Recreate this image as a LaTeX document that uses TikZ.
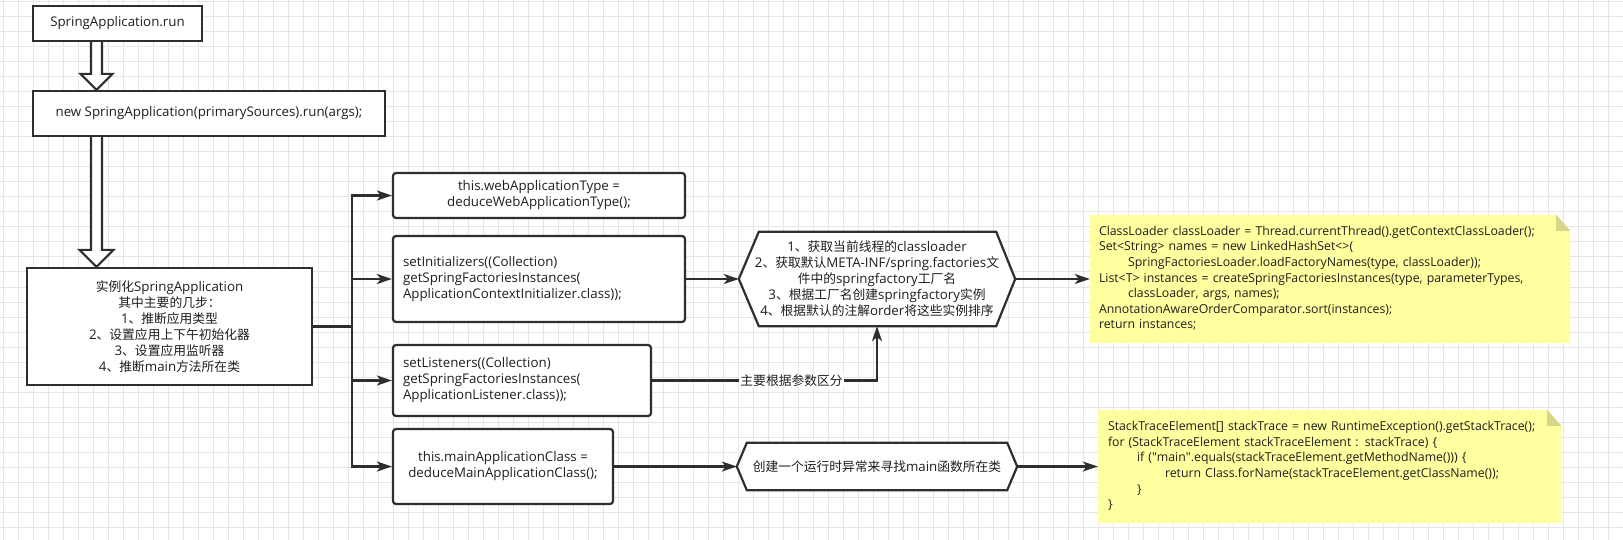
\documentclass[tikz,border=0pt]{standalone}
\usepackage{fontspec}
\setmainfont{Open Sans}
\newfontfamily\cjk[Scale=0.96]{Noto Sans CJK SC}
\usetikzlibrary{arrows.meta,calc}
\definecolor{ln}{HTML}{2E2E2E}
\definecolor{tx}{HTML}{1E1E1E}
\definecolor{notefill}{HTML}{FFFFA0}
\definecolor{notefold}{HTML}{D6D68A}
\definecolor{gridc}{HTML}{E6E6E6}
\pgfdeclarelayer{gridlayer}
\pgfdeclarelayer{bg}
\pgfsetlayers{gridlayer,bg,main}
\begin{document}
\begin{tikzpicture}[x=1pt,y=-1pt, line width=2.2pt,
  font=\fontsize{13.3}{16}\selectfont, text=tx,
  box/.style={draw=ln, line width=2.2pt, fill=white, inner sep=0pt, align=center},
  rbox/.style={box, rounded corners=3pt},
  lbox/.style={rbox, align=left, inner xsep=10pt},
  arr/.style={draw=ln, line width=2.2pt, -{Stealth[length=15pt,width=10pt,inset=4pt]}},
  conn/.style={draw=ln, line width=2.2pt},
  hollow/.style={draw=ln, line width=2.2pt, fill=white, line join=miter},
  hexline/.style={draw=ln, line width=2.2pt, fill=white, line join=miter},
  plain/.style={inner sep=0pt, align=center},
  note/.style={inner sep=0pt, align=left, font=\fontsize{12.3}{15.6}\selectfont},
  gridline/.style={draw=gridc, line width=1pt}]
\useasboundingbox (0,0) rectangle (1623,540);
\begin{pgfonlayer}{gridlayer}
  \fill[white] (0,0) rectangle (1623,540);
  \foreach \i in {0,...,108} \draw[gridline] (3.3+15*\i,0) -- (3.3+15*\i,540);
  \foreach \j in {0,...,35} \draw[gridline] (0,2+15*\j) -- (1623,2+15*\j);
\end{pgfonlayer}

% left column
\node[box, minimum width=169pt, minimum height=35pt] (run) at (117.5,23.5) {SpringApplication.run};
\node[box, minimum width=352pt, minimum height=45pt] (newapp) at (209,113.5) {new SpringApplication(primarySources).run(args);};
\node[box, minimum width=285pt, minimum height=117pt] (inst) at (169.5,326.5)
  {{\cjk 实例化}SpringApplication\\{\cjk 其中主要的几步：}\\1{\cjk 、推断应用类型}\\2{\cjk 、设置应用上下午初始化器}\\3{\cjk 、设置应用监听器}\\4{\cjk 、推断}main{\cjk 方法所在类}};

\coordinate (ax) at (96.5,0);
\draw[hollow] ($(run.south -| ax)+(-5.5,0)$) -- ($(newapp.north -| ax)+(-5.5,-16)$) -- ($(newapp.north -| ax)+(-16,-16)$)
  -- (newapp.north -| ax) -- ($(newapp.north -| ax)+(16,-16)$) -- ($(newapp.north -| ax)+(5.5,-16)$) -- ($(run.south -| ax)+(5.5,0)$);
\draw[hollow] ($(newapp.south -| ax)+(-5.5,0)$) -- ($(inst.north -| ax)+(-5.5,-17)$) -- ($(inst.north -| ax)+(-17,-17)$)
  -- (inst.north -| ax) -- ($(inst.north -| ax)+(17,-17)$) -- ($(inst.north -| ax)+(5.5,-17)$) -- ($(newapp.south -| ax)+(5.5,0)$);

% middle column
\node[rbox, minimum width=292pt, minimum height=45pt] (web) at (539,195.5)
  {this.webApplicationType =\\deduceWebApplicationType();};
\node[lbox, text width=272pt, minimum height=86pt] (init) at (539,279)
  {setInitializers((Collection)\\getSpringFactoriesInstances(\\ApplicationContextInitializer.class));};
\node[lbox, text width=238pt, minimum height=71pt] (lis) at (522,380.5)
  {setListeners((Collection)\\getSpringFactoriesInstances(\\ApplicationListener.class));};
\node[rbox, minimum width=220pt, minimum height=75pt] (mainc) at (503,466.5)
  {this.mainApplicationClass =\\deduceMainApplicationClass();};

\coordinate (trunk) at (352,326.5);
\draw[conn] (inst.east) -- (trunk);
\draw[arr] (trunk) |- (web.west);
\draw[arr] (trunk) |- (init.west);
\draw[arr] (trunk) |- (lis.west);
\draw[arr] (trunk) |- (mainc.west);

% hexagons
\node[plain, minimum width=276pt, minimum height=94pt] (hexa) at (877,279)
  {1{\cjk 、获取当前线程的}classloader\\2{\cjk 、获取默认}META-INF/spring.factories{\cjk 文}\\{\cjk 件中的}springfactory{\cjk 工厂名}\\3{\cjk 、根据工厂名创建}springfactory{\cjk 实例}\\4{\cjk 、根据默认的注解}order{\cjk 将这些实例排序}};
\node[plain, minimum width=280pt, minimum height=47pt] (hexb) at (877,466.5)
  {{\cjk 创建一个运行时异常来寻找}main{\cjk 函数所在类}};
\begin{pgfonlayer}{bg}
  \draw[hexline] (hexa.west) -- ($(hexa.north west)+(20,0)$) -- ($(hexa.north east)+(-19,0)$)
    -- (hexa.east) -- ($(hexa.south east)+(-19,0)$) -- ($(hexa.south west)+(20,0)$) -- cycle;
  \draw[hexline] (hexb.west) -- ($(hexb.north west)+(10,0)$) -- ($(hexb.north east)+(-10,0)$)
    -- (hexb.east) -- ($(hexb.south east)+(-10,0)$) -- ($(hexb.south west)+(10,0)$) -- cycle;
\end{pgfonlayer}

% notes
\node[note, text width=462pt, inner xsep=9pt, minimum height=128pt] (note1) at (1330,279)
  {\begin{tabular}{@{}l@{}}
   ClassLoader classLoader = Thread.currentThread().getContextClassLoader();\\
   Set<String> names = new LinkedHashSet<>(\\
   \hspace*{29pt}SpringFactoriesLoader.loadFactoryNames(type, classLoader));\\
   List<T> instances = createSpringFactoriesInstances(type, parameterTypes,\\
   \hspace*{29pt}classLoader, args, names);\\
   AnnotationAwareOrderComparator.sort(instances);\\
   return instances;
   \end{tabular}};
\node[note, text width=443pt, inner xsep=10pt, minimum height=113pt] (note2) at (1329.5,466.5)
  {\begin{tabular}{@{}l@{}}
   StackTraceElement[] stackTrace = new RuntimeException().getStackTrace();\\
   for (StackTraceElement stackTraceElement : stackTrace) \{\\
   \hspace*{29pt}if (\textquotedbl main\textquotedbl.equals(stackTraceElement.getMethodName())) \{\\
   \hspace*{57pt}return Class.forName(stackTraceElement.getClassName());\\
   \hspace*{29pt}\}\\
   \}
   \end{tabular}};
\begin{pgfonlayer}{bg}
  \foreach \n/\f in {note1/14, note2/14} {
    \fill[notefill] (\n.north west) -- ($(\n.north east)+(-\f,0)$) -- ($(\n.north east)+(0,16)$)
      -- (\n.south east) -- (\n.south west) -- cycle;
    \fill[notefold] ($(\n.north east)+(-\f,0)$) -- ($(\n.north east)+(-\f,16)$) -- ($(\n.north east)+(0,16)$) -- cycle;
  }
\end{pgfonlayer}

% right connectors
\draw[arr] (init.east) -- (hexa.west);
\draw[arr] (lis.east) -| node[pos=0.31, fill=white, inner sep=1pt] {\cjk 主要根据参数区分} (hexa.south);
\draw[arr] (mainc.east) -- (hexb.west);
\draw[arr] (hexa.east) -- (note1.west);
\draw[arr] (hexb.east) -- (note2.west);
\end{tikzpicture}
\end{document}
